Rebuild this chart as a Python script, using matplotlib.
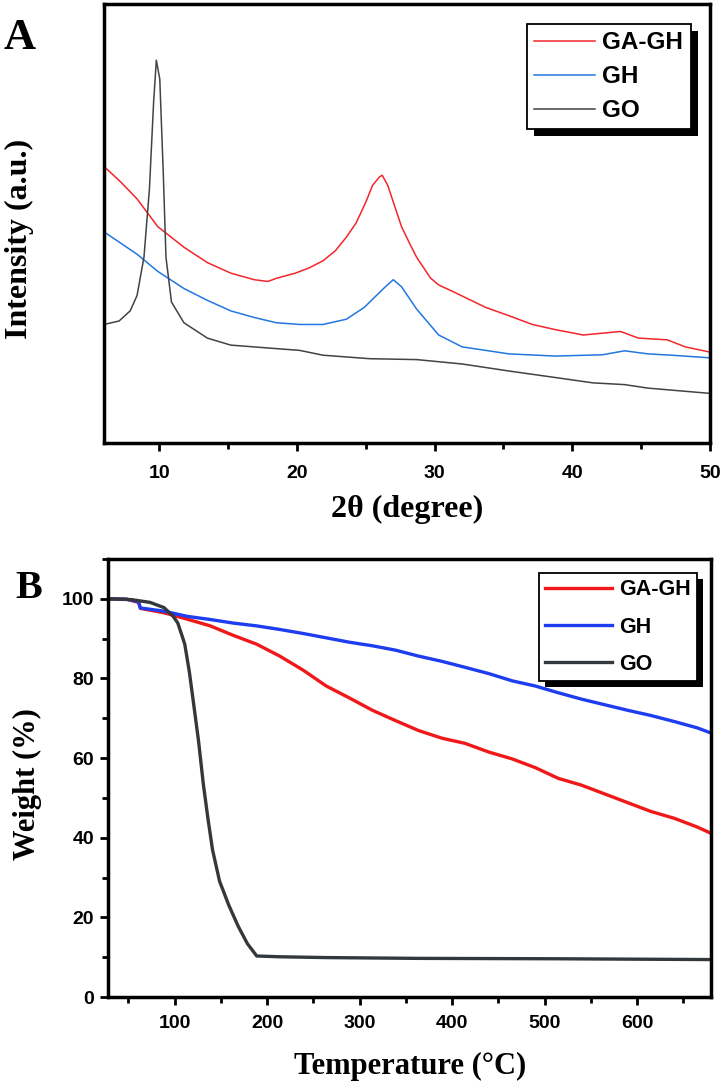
import matplotlib
matplotlib.use('Agg')
import matplotlib.pyplot as plt
from matplotlib.patches import Rectangle
from matplotlib.ticker import MultipleLocator

# ---- panel A: XRD, intensity in arbitrary units ----
xrd_x_gagh = [6.0, 7.2, 8.4, 9.9, 11.8, 13.5, 15.2, 16.9, 17.9, 18.5, 19.9, 20.9, 21.9, 22.8,
              23.6, 24.3, 25.0, 25.5, 26.0, 26.2, 26.6, 27.1, 27.6, 28.2, 28.7, 29.7, 30.3,
              31.4, 33.7, 35.4, 37.1, 38.8, 40.8, 42.8, 43.5, 44.8, 46.9, 48.2, 50.0]
xrd_y_gagh = [63.0, 59.5, 55.6, 49.3, 44.6, 41.1, 38.7, 37.2, 36.8, 37.5, 38.7, 39.9, 41.5, 43.8,
              46.9, 50.1, 54.8, 58.7, 60.6, 61.0, 58.7, 54.0, 49.3, 45.4, 42.3, 37.6, 36.0,
              34.4, 30.9, 29.0, 27.0, 25.8, 24.6, 25.2, 25.4, 23.9, 23.5, 21.9, 20.7]

xrd_x_gh = [6.0, 8.4, 9.9, 11.8, 13.5, 15.2, 16.9, 18.5, 20.2, 21.9, 23.6, 24.9, 26.3, 27.0,
            27.6, 28.7, 30.3, 32.0, 35.4, 38.8, 42.2, 43.8, 45.5, 47.2, 50.0]
xrd_y_gh = [48.1, 43.0, 39.1, 35.2, 32.5, 30.1, 28.6, 27.4, 27.0, 27.0, 28.2, 30.9, 35.2, 37.2,
            35.6, 30.5, 24.6, 21.9, 20.3, 19.8, 20.1, 21.0, 20.3, 20.0, 19.4]

xrd_x_go = [6.0, 7.1, 7.9, 8.4, 8.9, 9.3, 9.6, 9.8, 10.05, 10.3, 10.5, 10.9, 11.8, 13.5, 15.2,
            18.5, 20.2, 21.9, 25.3, 28.7, 32.0, 35.4, 38.8, 41.5, 43.8, 45.5, 50.0]
xrd_y_go = [27.0, 27.8, 30.1, 33.6, 42.3, 57.9, 77.5, 87.2, 82.9, 61.8, 42.3, 32.1, 27.4, 23.9,
            22.3, 21.5, 21.1, 20.0, 19.2, 19.0, 18.0, 16.4, 14.9, 13.7, 13.3, 12.5, 11.3]

# ---- panel B: TGA ----
tga_t_gagh = [28, 48, 61, 63, 88.5, 113.5, 138.6, 163.7, 188.8, 213.8, 238.9, 264, 289, 314,
              339, 364, 389, 414, 440, 465, 490, 515, 540, 565, 590, 615, 640, 665, 680]
tga_w_gagh = [100, 99.9, 99.1, 97.6, 96.5, 94.9, 93.2, 90.8, 88.6, 85.6, 82.1, 78.1, 75.1, 72.0,
              69.4, 66.9, 65.0, 63.7, 61.5, 59.8, 57.6, 54.9, 53.2, 51.0, 48.8, 46.6, 44.9, 42.7, 41.1]

tga_t_gh = tga_t_gagh
tga_w_gh = [100, 99.9, 99.3, 97.7, 96.9, 95.6, 94.8, 93.9, 93.2, 92.3, 91.3, 90.2, 89.1, 88.2,
            87.1, 85.6, 84.3, 82.8, 81.2, 79.4, 78.1, 76.4, 74.8, 73.4, 72.0, 70.7, 69.2, 67.6, 66.3]

tga_t_go = [28, 53.4, 73.5, 88.5, 98.5, 103.5, 108.5, 111, 116, 121, 126, 131, 136, 141, 148.6,
            158.7, 168.7, 178.7, 188.8, 213.8, 264, 364, 515, 680]
tga_w_go = [100, 99.8, 99.1, 97.8, 95.6, 93.9, 90.4, 88.6, 81.6, 72.9, 64.1, 53.6, 44.9, 37.0,
            29.1, 23.0, 17.8, 13.4, 10.3, 10.1, 9.9, 9.7, 9.6, 9.4]

labels = ['GA-GH', 'GH', 'GO']
colors_a = ['#f2262b', '#2277e0', '#3f4448']
colors_b = ['#f01818', '#1e3cf0', '#33383c']

SANS = 'Liberation Sans'
SERIF = 'Liberation Serif'

fig = plt.figure(figsize=(7.25, 10.84), dpi=100)
W, H = 725.0, 1084.0


def axes_px(l, t, r, b):
    return fig.add_axes([l / W, 1 - b / H, (r - l) / W, (b - t) / H])


def style_axes(ax):
    for s in ax.spines.values():
        s.set_linewidth(2.5)
    ax.tick_params(which='both', direction='out', width=2.0, labelsize=14, pad=7)
    ax.tick_params(which='major', length=6)
    ax.tick_params(which='minor', length=4)
    for lab in ax.get_xticklabels() + ax.get_yticklabels():
        lab.set_fontfamily(SANS)
        lab.set_fontweight('bold')


def add_legend(ax, anchor, fsize, hlen, lspace, bpad, shadow_px):
    leg = ax.legend(loc='upper left', bbox_to_anchor=anchor, bbox_transform=fig.transFigure,
                    frameon=True, fancybox=False, framealpha=1, edgecolor='black',
                    borderaxespad=0, borderpad=bpad, handlelength=hlen, handletextpad=0.3,
                    labelspacing=lspace, prop={'family': SANS, 'weight': 'bold', 'size': fsize})
    leg.get_frame().set_linewidth(1.3)
    fig.canvas.draw()
    bb = leg.get_window_extent().transformed(ax.transAxes.inverted())
    dx = shadow_px / ax.bbox.width
    dy = shadow_px / ax.bbox.height
    ax.add_patch(Rectangle((bb.x0 + dx, bb.y0 - dy), bb.width, bb.height, transform=ax.transAxes,
                           facecolor='black', edgecolor='none', zorder=4.9, clip_on=False))
    return leg


# ---------------- panel A ----------------
axA = axes_px(104, 4, 710, 443)
axA.plot(xrd_x_gagh, xrd_y_gagh, color=colors_a[0], lw=1.1, label=labels[0])
axA.plot(xrd_x_gh, xrd_y_gh, color=colors_a[1], lw=1.1, label=labels[1])
axA.plot(xrd_x_go, xrd_y_go, color=colors_a[2], lw=1.1, label=labels[2])
axA.set_xlim(6, 50)
axA.set_ylim(0, 100)
axA.set_yticks([])
axA.xaxis.set_major_locator(MultipleLocator(10))
axA.xaxis.set_minor_locator(MultipleLocator(5))
style_axes(axA)
axA.tick_params(axis='x', pad=10)
add_legend(axA, (527 / W, 1 - 24 / H), 17.5, 2.5, 0.45, 0.3, 7)

fig.text(20 / W, 1 - 38 / H, 'A', family=SERIF, weight='bold', fontsize=32, ha='center', va='center')
fig.text(19 / W, 1 - 239 / H, 'Intensity (a.u.)', family=SERIF, weight='bold', fontsize=23,
         rotation=90, ha='center', va='center')
fig.text(407 / W, 1 - 509 / H, '2θ (degree)', family=SERIF, weight='bold', fontsize=23,
         ha='center', va='center')

# ---------------- panel B ----------------
axB = axes_px(108, 559, 711, 997)
axB.plot(tga_t_gagh, tga_w_gagh, color=colors_b[0], lw=2.4, label=labels[0])
axB.plot(tga_t_gh, tga_w_gh, color=colors_b[1], lw=2.4, label=labels[1])
axB.plot(tga_t_go, tga_w_go, color=colors_b[2], lw=2.4, label=labels[2])
axB.set_xlim(28, 680)
axB.set_ylim(0, 110)
axB.xaxis.set_major_locator(MultipleLocator(100))
axB.xaxis.set_minor_locator(MultipleLocator(50))
axB.yaxis.set_major_locator(MultipleLocator(20))
axB.yaxis.set_minor_locator(MultipleLocator(10))
style_axes(axB)
axB.tick_params(axis='y', pad=4)
add_legend(axB, (539 / W, 1 - 573 / H), 15.5, 3.1, 0.75, 0.3, 6)

fig.text(29 / W, 1 - 588 / H, 'B', family=SERIF, weight='bold', fontsize=29, ha='center', va='center')
fig.text(27 / W, 1 - 784 / H, 'Weight (%)', family=SERIF, weight='bold', fontsize=22,
         rotation=90, ha='center', va='center')
fig.text(410 / W, 1 - 1066 / H, 'Temperature (°C)', family=SERIF, weight='bold', fontsize=22,
         ha='center', va='center')

fig.savefig('out.png', dpi=100)
